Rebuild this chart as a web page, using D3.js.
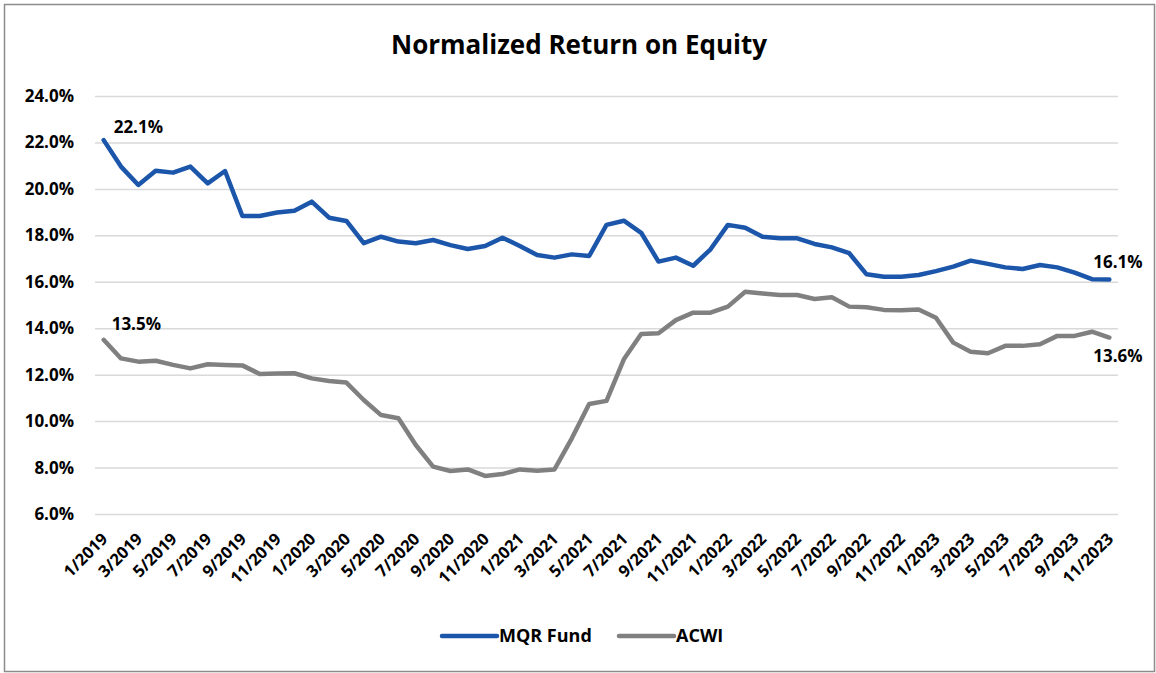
<!DOCTYPE html>
<html>
<head>
<meta charset="utf-8">
<script src="https://cdn.jsdelivr.net/npm/d3@7"></script>
<style>
  body { margin: 0; background: #fff; }
  svg { display: block; font-family: "Open Sans", Lato, sans-serif; }
</style>
</head>
<body>
<div id="chart"></div>
<script>
// months 1/2019 .. 11/2023
var months = [];
for (var yr = 2019; yr <= 2023; yr++) {
    for (var mo = 1; mo <= 12; mo++) {
        if (yr == 2023 && mo > 11) break;
        months.push(mo + "/" + yr);
    }
}

var mqrFund = [22.1, 20.96, 20.17, 20.78, 20.70, 20.96, 20.24, 20.77, 18.83, 18.83,
    18.98, 19.06, 19.45, 18.76, 18.62, 17.66, 17.94, 17.73, 17.66, 17.80,
    17.58, 17.41, 17.54, 17.90, 17.54, 17.15, 17.04, 17.18, 17.11, 18.45,
    18.63, 18.11, 16.87, 17.04, 16.69, 17.40, 18.45, 18.33, 17.94, 17.87,
    17.87, 17.63, 17.48, 17.23, 16.32, 16.22, 16.22, 16.29, 16.46, 16.65,
    16.91, 16.77, 16.62, 16.55, 16.72, 16.62, 16.39, 16.11, 16.1];

var acwi = [13.5, 12.70, 12.56, 12.60, 12.42, 12.27, 12.45, 12.42, 12.40, 12.03,
    12.05, 12.06, 11.84, 11.73, 11.66, 10.91, 10.26, 10.12, 8.97, 8.04,
    7.85, 7.92, 7.64, 7.72, 7.92, 7.86, 7.92, 9.26, 10.74, 10.87,
    12.66, 13.75, 13.78, 14.35, 14.67, 14.67, 14.93, 15.57, 15.50, 15.43,
    15.43, 15.26, 15.33, 14.93, 14.90, 14.79, 14.77, 14.81, 14.45, 13.38,
    12.99, 12.92, 13.24, 13.24, 13.31, 13.67, 13.67, 13.85, 13.6];

var yTicks = [6, 8, 10, 12, 14, 16, 18, 20, 22, 24];

var seriesNames = ["MQR Fund", "ACWI"];
var seriesColors = ["#1c56ab", "#808080"];

var width = 1156, height = 673;

var svg = d3.select("#chart").append("svg")
    .attr("width", width)
    .attr("height", height);

// chart border
svg.append("rect")
    .attr("x", 4.5).attr("y", 4.5)
    .attr("width", 1150).attr("height", 667)
    .attr("fill", "#fff")
    .attr("stroke", "#8c8c8c")
    .attr("stroke-width", 1.5);

svg.append("text")
    .attr("x", 579)
    .attr("y", 54)
    .attr("text-anchor", "middle")
    .style("font-size", "26px")
    .style("font-weight", "bold")
    .text("Normalized Return on Equity");

var x = d3.scaleBand()
    .domain(months)
    .range([95, 1118])
    .padding(0);

var y = d3.scaleLinear()
    .domain([6, 24])
    .range([514, 96]);

function cx(m) { return x(m) + x.bandwidth() / 2; }

// gridlines + y labels
var yAxis = svg.append("g")
    .call(d3.axisLeft(y)
        .tickValues(yTicks)
        .tickSize(-(1118 - 95))
        .tickPadding(21)
        .tickFormat(function (d) { return d3.format(".1f")(d) + "%"; }))
    .attr("transform", "translate(95,0)");

yAxis.select(".domain").remove();
yAxis.selectAll(".tick line")
    .attr("stroke", "#d9d9d9")
    .attr("stroke-width", 1.5);
yAxis.selectAll(".tick text")
    .style("font-family", "'Open Sans', sans-serif")
    .style("font-size", "17px")
    .style("font-weight", "bold")
    .attr("fill", "#000");

// x labels, every other month
var xLabels = svg.append("g").attr("class", "xLabels");
xLabels.selectAll("text")
    .data(months.filter(function (d, i) { return i % 2 == 0; }))
    .enter().append("text")
    .attr("transform", function (d) {
        return "translate(" + (cx(d) + 5) + ",540) rotate(-45)";
    })
    .attr("text-anchor", "end")
    .style("font-size", "16.5px")
    .style("font-weight", "bold")
    .text(function (d) { return d; });

var line = d3.line()
    .x(function (d, i) { return cx(months[i]); })
    .y(function (d) { return y(d); });

[mqrFund, acwi].forEach(function (s, k) {
    svg.append("path")
        .datum(s)
        .attr("fill", "none")
        .attr("stroke", seriesColors[k])
        .attr("stroke-width", 4.5)
        .attr("stroke-linejoin", "round")
        .attr("stroke-linecap", "round")
        .attr("d", line);
});

// data labels at the ends
var labels = [
    { v: mqrFund[0], i: 0, dx: 10, dy: -12 },
    { v: acwi[0], i: 0, dx: 8, dy: -14 },
    { v: mqrFund[mqrFund.length - 1], i: months.length - 1, dx: -16, dy: -16 },
    { v: acwi[acwi.length - 1], i: months.length - 1, dx: -16, dy: 20 }
];
svg.selectAll(".dataLabel")
    .data(labels)
    .enter().append("text")
    .attr("class", "dataLabel")
    .attr("x", function (d) { return cx(months[d.i]) + d.dx; })
    .attr("y", function (d) { return y(d.v) + d.dy; })
    .attr("dominant-baseline", "middle")
    .style("font-size", "17px")
    .style("font-weight", "bold")
    .text(function (d) { return d3.format(".1f")(d.v) + "%"; });

// legend
var legendX = [442, 619];
var legend = svg.append("g").attr("class", "legend");
seriesNames.forEach(function (name, k) {
    legend.append("line")
        .attr("x1", legendX[k]).attr("x2", legendX[k] + 55)
        .attr("y1", 636).attr("y2", 636)
        .attr("stroke", seriesColors[k])
        .attr("stroke-width", 4.5)
        .attr("stroke-linecap", "round");
    legend.append("text")
        .attr("x", legendX[k] + 57)
        .attr("y", 637)
        .attr("dominant-baseline", "middle")
        .style("font-size", "18px")
        .style("font-weight", "bold")
        .text(name);
});
</script>
</body>
</html>
